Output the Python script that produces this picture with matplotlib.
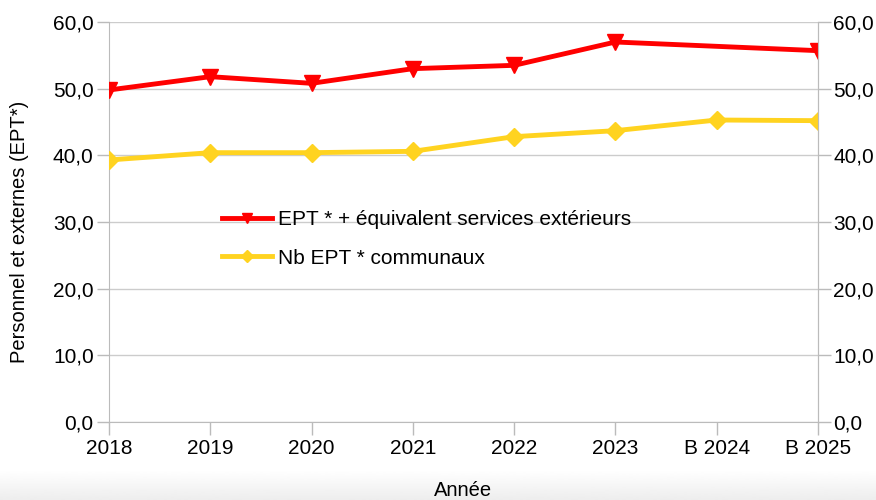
import numpy as np
import matplotlib
matplotlib.use("Agg")
import matplotlib.pyplot as plt
from matplotlib.ticker import FuncFormatter, MultipleLocator

# donnees
annees = ["2018", "2019", "2020", "2021", "2022", "2023", "B 2024", "B 2025"]
ept_ext = [49.8, 51.8, 50.8, 53.0, 53.5, 57.0, np.nan, 55.7]
ept_comm = [39.3, 40.4, 40.4, 40.6, 42.8, 43.7, 45.3, 45.2]

rouge = "#ff0000"
jaune = "#ffd320"

plt.rcParams['font.family'] = ['Liberation Sans', 'DejaVu Sans']

fig = plt.figure(figsize=(8.76, 5), dpi=100)

# bande grise en bas (degrade)
bg = fig.add_axes([0, 0, 1, 0.06], zorder=-10)
grad = np.linspace(1.0, 0.93, 50).reshape(-1, 1)
bg.imshow(grad, aspect="auto", cmap="gray", vmin=0, vmax=1, extent=[0, 1, 0, 1])
bg.axis("off")

ax = fig.add_axes([0.1244, 0.156, 0.8094, 0.8])
ax.patch.set_alpha(0)
x = np.arange(len(annees))

# ligne rouge : on relie les points presents
ept_ext = np.array(ept_ext)
ok = ~np.isnan(ept_ext)
ax.plot(x[ok], ept_ext[ok], color=rouge, lw=3.5, marker="v", ms=11,
        label="EPT * + équivalent services extérieurs", zorder=4)
ax.plot(x, ept_comm, color=jaune, lw=3.5, marker="D", ms=9.5,
        label="Nb EPT * communaux", zorder=3)

ax.set_xlim(0, len(annees) - 1)
ax.set_ylim(0, 60)
ax.yaxis.set_major_locator(MultipleLocator(10))
fmt = FuncFormatter(lambda v, p: f"{v:.1f}".replace(".", ","))
ax.yaxis.set_major_formatter(fmt)
ax.set_xticks(x)
ax.set_xticklabels(annees)
ax.grid(axis="y", color="#cccccc", lw=1)
ax.set_axisbelow(True)

ax.spines["top"].set_visible(False)
for s in ["left", "right", "bottom"]:
    ax.spines[s].set_color("#bbbbbb")
ax.tick_params(axis="both", colors="#bbbbbb", labelcolor="black", labelsize=15,
               length=9, width=1)
ax.tick_params(axis="x", pad=3)
ax.tick_params(axis="y", pad=2)

ax2 = ax.twinx()
ax2.set_ylim(0, 60)
ax2.yaxis.set_major_locator(MultipleLocator(10))
ax2.yaxis.set_major_formatter(fmt)
for s in ["top", "left", "bottom"]:
    ax2.spines[s].set_visible(False)
ax2.spines["right"].set_color("#bbbbbb")
ax2.tick_params(axis="y", colors="#bbbbbb", labelcolor="black", labelsize=15,
                length=9, width=1, pad=2)

ax.set_ylabel("Personnel et externes (EPT*)", fontsize=14.5)
ax.yaxis.set_label_coords(-0.113, 0.475)
ax.set_xlabel("Année", fontsize=14.5)
ax.xaxis.set_label_coords(0.5, -0.148)

ax.legend(loc="upper left", bbox_to_anchor=(0.145, 0.555), frameon=False,
          fontsize=15, handlelength=2.4, handletextpad=0.3, labelspacing=0.93,
          borderpad=0, markerscale=0.6)

fig.savefig("out.png", dpi=100)
